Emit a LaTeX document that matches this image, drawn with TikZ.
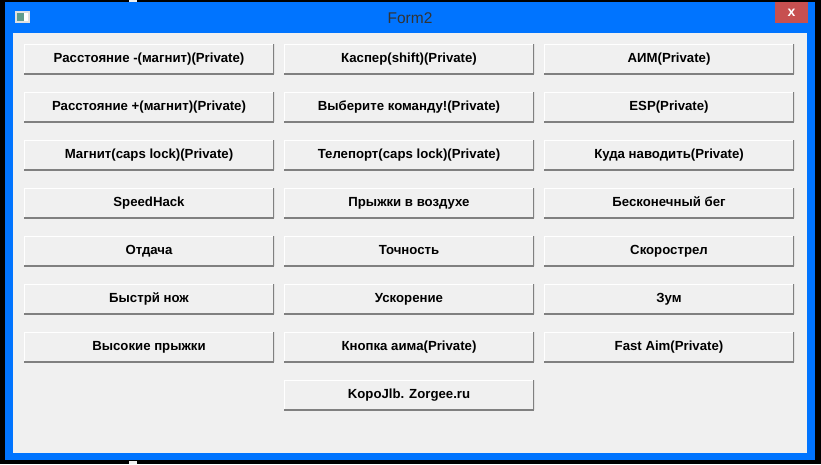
\documentclass[tikz,border=0pt]{standalone}
\usepackage{fontspec}
\setmainfont{Liberation Sans}
\usetikzlibrary{calc}
\definecolor{winblue}{HTML}{0074FF}
\definecolor{winface}{HTML}{F0F0F0}
\definecolor{winshade}{HTML}{808080}
\definecolor{winclose}{HTML}{C75050}
\definecolor{winicon}{HTML}{5F9C8C}
\tikzset{
    winbtn/.style={minimum width=250pt, minimum height=30pt, inner sep=0pt, fill=winface,
        text height=9pt, text depth=3pt,
        font=\fontsize{13.2}{15}\selectfont\bfseries, text=black,
        path picture={
            \draw[white, line width=2pt] (path picture bounding box.south west) -- (path picture bounding box.north west) -- (path picture bounding box.north east);
            \draw[winshade, line width=3pt] (path picture bounding box.south west) -- (path picture bounding box.south east);
            \draw[winshade, line width=2.6pt] (path picture bounding box.south east) -- (path picture bounding box.north east);
        }},
    wintitle/.style={font=\fontsize{15.5}{17}\selectfont, text=black!80, inner sep=0pt}
}
\begin{document}
\begin{tikzpicture}[x=1pt, y=-1pt]
    \useasboundingbox (0,0) rectangle (821,464);
    \fill[black] (0,0) rectangle (821,464);
    \fill[winface] (129,0) rectangle (137,3);
    \fill[winface] (129,461) rectangle (137,464);

    \fill[winblue] (5,2) rectangle (814.5,460);
    \fill[winface] (13,33) rectangle (807,453);
    \fill[winclose] (775,2) rectangle (808,23);
    \node[font=\fontsize{14}{14}\selectfont\bfseries, text=white, inner sep=0pt] (closex) at (791.5,12.5) {x};

    \fill[white!88!black] (15,11) rectangle (30,23);
    \fill[white] (23,13) rectangle (28,21);
    \fill[winicon] (17,13) rectangle (24,21);

    \node[wintitle] (title) at (410,18) {Form2};

    \node[winbtn] (rangeminus) at (149,59) {Расстояние -(магнит)(Private)};
    \node[winbtn] (casper) at (409,59) {Каспер(shift)(Private)};
    \node[winbtn] (aim) at (669,59) {АИМ(Private)};

    \node[winbtn] (rangeplus) at (149,107) {Расстояние +(магнит)(Private)};
    \node[winbtn] (choose) at (409,107) {Выберите команду!(Private)};
    \node[winbtn] (esp) at (669,107) {ESP(Private)};

    \node[winbtn] (magnet) at (149,155) {Магнит(caps lock)(Private)};
    \node[winbtn] (teleport) at (409,155) {Телепорт(caps lock)(Private)};
    \node[winbtn] (target) at (669,155) {Куда наводить(Private)};

    \node[winbtn] (speedhack) at (149,203) {SpeedHack};
    \node[winbtn] (airjump) at (409,203) {Прыжки в воздухе};
    \node[winbtn] (endless) at (669,203) {Бесконечный бег};

    \node[winbtn] (recoil) at (149,251) {Отдача};
    \node[winbtn] (accuracy) at (409,251) {Точность};
    \node[winbtn] (rapid) at (669,251) {Скорострел};

    \node[winbtn] (knife) at (149,299) {Быстрй нож};
    \node[winbtn] (boost) at (409,299) {Ускорение};
    \node[winbtn] (zoom) at (669,299) {Зум};

    \node[winbtn] (highjump) at (149,347) {Высокие прыжки};
    \node[winbtn] (aimkey) at (409,347) {Кнопка аима(Private)};
    \node[winbtn] (fastaim) at (669,347) {Fast Aim(Private)};

    \node[winbtn] (korol) at (409,395) {KopoJlb. Zorgee.ru};
\end{tikzpicture}
\end{document}
